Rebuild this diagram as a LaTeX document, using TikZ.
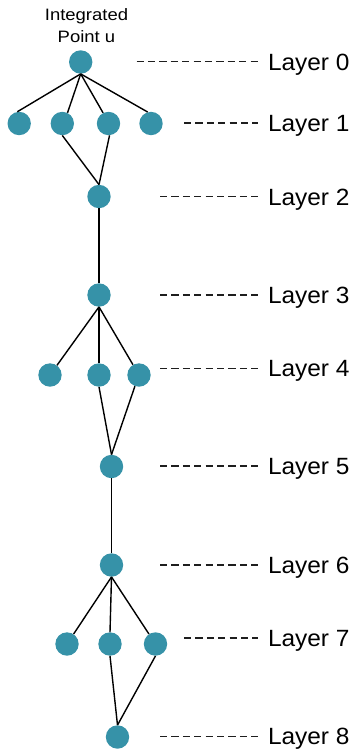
\documentclass[tikz,border=0pt]{standalone}
\usepackage{fontspec}
\setmainfont{Liberation Sans}
\usepackage{graphicx}
\definecolor{teal}{RGB}{54,146,168}
\definecolor{guide}{RGB}{30,30,30}
\begin{document}
\begin{tikzpicture}[x=1pt,y=-1pt,
  vertex/.style={circle,fill=teal,draw=none,minimum size=23.4pt,inner sep=0pt},
  link/.style={line width=1.4pt,black},
  guideline/.style={line width=1.5pt,guide,dash pattern=on 7.2pt off 4.2pt},
  layerlabel/.style={anchor=base west,inner sep=0pt,font=\fontsize{23.5}{26}\selectfont},
  caption/.style={align=center,inner sep=0pt,font=\fontsize{16.5}{22}\selectfont}]
\useasboundingbox (0,0) rectangle (349,753);

% tree vertices, one row per layer
\node[vertex] (u) at (80.7,62) {};
\node[vertex] (a1) at (19.2,123.5) {};
\node[vertex] (a2) at (62.3,123.5) {};
\node[vertex] (a3) at (108.5,123.5) {};
\node[vertex] (a4) at (151,123.5) {};
\node[vertex] (b) at (99,196.5) {};
\node[vertex] (c) at (99,295) {};
\node[vertex] (d1) at (50,375) {};
\node[vertex] (d2) at (99,375) {};
\node[vertex] (d3) at (139,375) {};
\node[vertex] (e) at (111.5,466.5) {};
\node[vertex] (f) at (111.5,565) {};
\node[vertex] (g1) at (67,644) {};
\node[vertex] (g2) at (110,644) {};
\node[vertex] (g3) at (155.5,644) {};
\node[vertex] (h) at (117.5,737) {};

% title above the root
\node[caption,anchor=base] (t1) at (86.5,20.5) {\scalebox{1.12}[1]{Integrated}};
\node[caption,anchor=base] (t2) at (86.5,42.3) {\scalebox{1.12}[1]{Point u}};

% edges between layers
\draw[link] (u.south) -- (a1.99);
\draw[link] (u.south) -- (a2.64);
\draw[link] (u.south) -- (a3.117);
\draw[link] (u.south) -- (a4.106);
\draw[link] (a2.south) -- (b.north);
\draw[link] (a3.275) -- (b.north);
\draw[link] (b.south) -- (c.north);
\draw[link] (c.south) -- (d1);
\draw[link] (c.south) -- (d2.north);
\draw[link] (c.south) -- (d3);
\draw[link] (d2.south) -- (e.north);
\draw[link] (d3.250) -- (e.north);
\draw[link] (e.south) -- (f.north);
\draw[link] (f.south) -- (g1);
\draw[link] (f.south) -- (g2.north);
\draw[link] (f.south) -- (g3);
\draw[link] (g2.south) -- (h.north);
\draw[link] (g3.south) -- (h.north);

% layer guides and labels
\foreach \n/\y/\xs in {0/61.7/136.5, 1/123/184, 2/196.7/160, 3/295/160, 4/368.5/160,
                       5/466/160, 6/565/160, 7/638/184, 8/736.5/160} {
  \coordinate (s\n) at (\xs,\y);
  \coordinate (t\n) at (258,\y);
  \draw[guideline] (s\n) -- (t\n);
  \node[layerlabel] (L\n) at (267.8,\y+8.3) {\scalebox{1.04}[1]{Layer \n}};
}
\end{tikzpicture}
\end{document}
